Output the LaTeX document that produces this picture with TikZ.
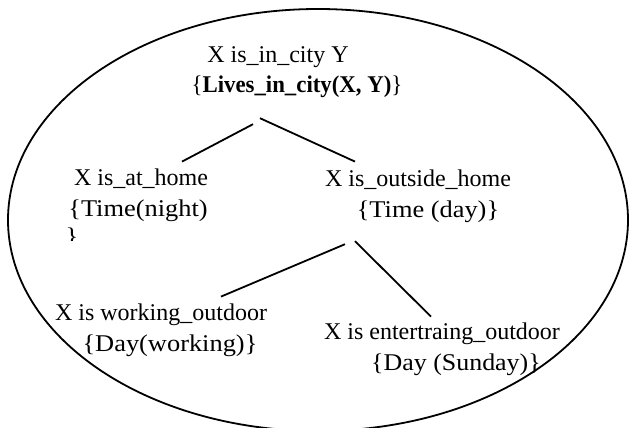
\documentclass[tikz,border=0pt]{standalone}
\usepackage{fontspec}
\setmainfont{Liberation Serif}
\usepackage{tikz}
\usetikzlibrary{positioning}

\tikzset{
    lbl/.style={inner sep=1pt, text height=9pt, text depth=3pt,
        font=\fontsize{12}{14}\selectfont\addfontfeatures{FakeStretch=#1}},
    lbl/.default=1,
    link/.style={line width=0.9pt}
}

\begin{document}
\begin{tikzpicture}[x=0.5pt, y=-0.5pt]
    \useasboundingbox (0,0) rectangle (629,428);
    % Outline
    \draw[line width=0.9pt] (318,220) ellipse [x radius=155pt, y radius=105.5pt];
    % Nodes
    \node[lbl, anchor=base] (incity) at (278,62) {X is\_in\_city Y};
    \node[lbl=0.95, below=1pt of incity, xshift=9.5pt] (incityrule) {\{\textbf{Lives\_in\_city(X, Y)}\}};
    \node[lbl, anchor=base] (athome) at (141,186) {X is\_at\_home};
    \node[lbl=1.1, below=1pt of athome, xshift=-1.5pt] (athomerule) {\{Time(night)};
    \node[lbl, anchor=base] (outside) at (418,187) {X is\_outside\_home};
    \node[lbl=1.1, below=1pt of outside, xshift=5pt] (outsiderule) {\{Time (day)\}};
    \node[lbl, anchor=base] (working) at (161,321) {X is working\_outdoor};
    \node[lbl=1.1, below=1pt of working, xshift=4.5pt] (workingrule) {\{Day(working)\}};
    \node[lbl, anchor=base] (entertain) at (442,340) {X is entertraing\_outdoor};
    \node[lbl=1.08, below=1pt of entertain, xshift=7pt] (entertainrule) {\{Day (Sunday)\}};
    \begin{scope}
        \clip (60,225) rectangle (90,241);
        \node[lbl=1.1, anchor=base] (athomeend) at (72,245) {\}};
    \end{scope}
    % Links
    \draw[link] ([xshift=-22pt, yshift=-11.5pt]incityrule.south) -- ([xshift=20.5pt, yshift=2pt]athome.north);
    \draw[link] ([xshift=-18.5pt, yshift=-8.5pt]incityrule.south) -- ([xshift=-31.5pt, yshift=2.5pt]outside.north);
    \draw[link] ([xshift=-41.5pt, yshift=-9pt]outsiderule.south) -- ([xshift=30pt, yshift=2pt]working.north);
    \draw[link] ([xshift=-36.5pt, yshift=-7.5pt]outsiderule.south) -- ([xshift=-5.5pt, yshift=1.5pt]entertain.north);
\end{tikzpicture}
\end{document}
